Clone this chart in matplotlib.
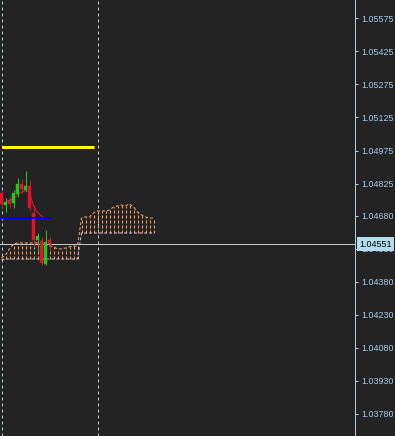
import matplotlib
matplotlib.use('Agg')
import matplotlib.pyplot as plt
from matplotlib.patches import Rectangle
import matplotlib.transforms as mtransforms

# ---------------- data ----------------
# candles, bar index 0..12
opens  = [1.04782, 1.04728, 1.04751, 1.04737, 1.04778, 1.04823, 1.04796, 1.04814, 1.04692, 1.04569, 1.04565, 1.04460, 1.04569]
highs  = [1.04792, 1.04760, 1.04764, 1.04796, 1.04851, 1.04846, 1.04882, 1.04841, 1.04728, 1.04601, 1.04585, 1.04615, 1.04583]
lows   = [1.04714, 1.04696, 1.04714, 1.04714, 1.04764, 1.04782, 1.04792, 1.04705, 1.04538, 1.04515, 1.04456, 1.04456, 1.04519]
closes = [1.04733, 1.04742, 1.04733, 1.04782, 1.04823, 1.04801, 1.04814, 1.04714, 1.04569, 1.04587, 1.04465, 1.04560, 1.04551]

# Tenkan-sen (red), bars 0..12
tenkan = [1.04733, 1.04737, 1.04751, 1.04755, 1.04773, 1.04787, 1.04792, 1.04787, 1.04724, 1.04696, 1.04678, 1.04669, 1.04669]
# Kijun-sen (blue), bars -1..12
kijun_bars = list(range(-1, 13))
kijun = [1.04669] * 14

# Senkou span A (sandy brown) and B (thistle), bars 0..38
span_a = [1.04488, 1.04501, 1.04529, 1.04551, 1.04556, 1.04556, 1.04556, 1.04556, 1.04556, 1.04556,
          1.04551, 1.04547, 1.04542, 1.04538, 1.04529, 1.04529, 1.04533, 1.04538, 1.04542, 1.04542,
          1.04669, 1.04674, 1.04674, 1.04692, 1.04701, 1.04701, 1.04701, 1.04705, 1.04719, 1.04724,
          1.04728, 1.04724, 1.04733, 1.04719, 1.04696, 1.04683, 1.04674, 1.04669, 1.04669]
span_b = [1.04479] + [1.04483] * 19 + [1.04601] * 19

yellow_level = 1.04991
yellow_from, yellow_to = 0, 23
separators = [0, 24]
bid = 1.04551

tick_values = [1.05575, 1.05425, 1.05275, 1.05125, 1.04975, 1.04825, 1.04680,
               1.04530, 1.04380, 1.04230, 1.04080, 1.03930, 1.03780]
tick_labels = ["1.05575", "1.05425", "1.05275", "1.05125", "1.04975", "1.04825", "1.04680",
               "1.04530", "1.04380", "1.04230", "1.04080", "1.03930", "1.03780"]

# ---------------- style ----------------
BG = '#232323'
AXC = '#a8cfe0'
LBL = '#a6cbee'
RED = '#e8112d'
GRN = '#1fc81f'
ORANGE = '#f4a460'
THISTLE = '#d8bfd8'
PX = 0.72  # one pixel in points at dpi 100

fig = plt.figure(figsize=(3.95, 4.36), dpi=100, facecolor=BG)
ax = fig.add_axes([0, 0, 355 / 395, 1])
ax.set_facecolor(BG)
ax.set_xlim(-0.375, 88.375)
ax.set_ylim(1.03680, 1.05658)

# period separators
for s in separators:
    ax.axvline(s, color='#b8d4dc', lw=PX, ls=(0, (3, 3)), zorder=1)

# cloud hatch + borders
bars = list(range(len(span_a)))
ax.vlines(bars, span_b, span_a, colors=ORANGE, lw=PX, linestyles=(0, (3, 2)), zorder=2)
ax.plot(bars, span_a, color=ORANGE, lw=PX, ls=(0, (3, 2)), zorder=2)
ax.plot(bars, span_b, color=THISTLE, lw=PX, ls=(0, (3, 2)), zorder=2)

# bid line
ax.axhline(bid, color='#c8c8c8', lw=PX, zorder=2.5)

# yellow level
ax.plot([yellow_from, yellow_to], [yellow_level, yellow_level], color='#ffff00', lw=3 * PX,
        solid_capstyle='butt', zorder=3)

# tenkan
ax.plot(range(len(tenkan)), tenkan, color=RED, lw=PX, zorder=3)

# candles
for i, (o, h, l, c) in enumerate(zip(opens, highs, lows, closes)):
    col = GRN if c >= o else RED
    ax.vlines(i, l, h, colors=col, lw=PX, zorder=4)
    lo, hi = min(o, c), max(o, c)
    ax.add_patch(Rectangle((i - 0.375, lo), 0.75, max(hi - lo, 0.00003),
                           facecolor=col, edgecolor=col, lw=0.3, zorder=5))

# kijun
ax.plot(kijun_bars, kijun, color='#0000ff', lw=2 * PX, zorder=6)

# axis
for sp in ['left', 'top', 'bottom']:
    ax.spines[sp].set_visible(False)
ax.spines['right'].set_color(AXC)
ax.spines['right'].set_linewidth(PX)
ax.set_xticks([])
ax.yaxis.tick_right()
ax.set_yticks(tick_values)
ax.set_yticklabels(tick_labels, fontfamily='Liberation Sans')
ax.tick_params(axis='y', direction='out', length=3 * PX, width=PX, color=AXC,
               labelcolor=LBL, labelsize=6.4, pad=3 * PX)

# bid price label
trans = mtransforms.blended_transform_factory(ax.transAxes, ax.transData)
ax.text(1.0 + 4 / 355, bid, "1.04551", transform=trans, ha='left', va='center',
        fontsize=6.4, fontfamily='Liberation Sans', color='#000000', zorder=20, clip_on=False,
        bbox=dict(boxstyle='square,pad=0.28', facecolor='#b4dcec', edgecolor='none'))

fig.savefig('out.png', dpi=100, facecolor=BG)
